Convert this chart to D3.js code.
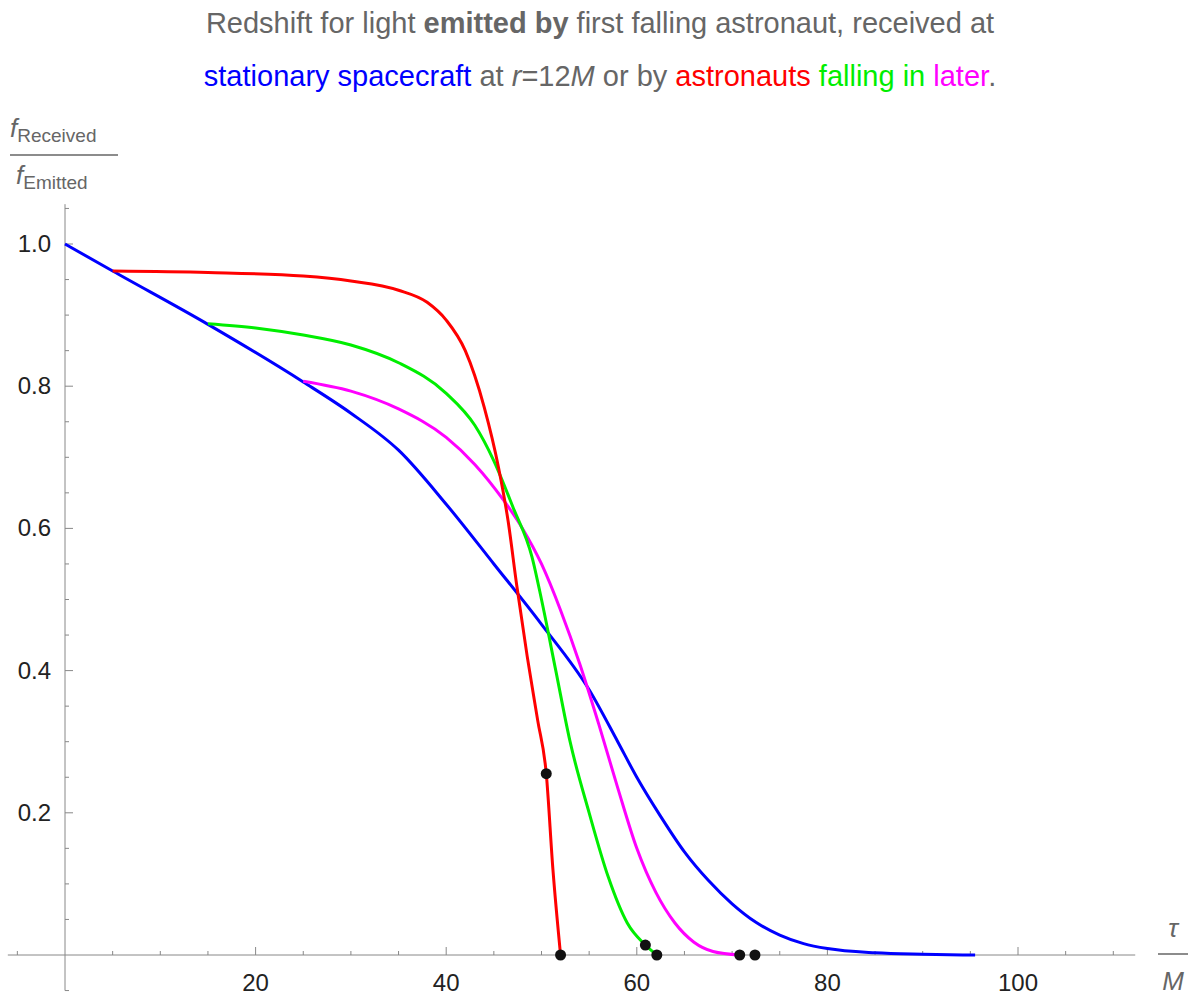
<!DOCTYPE html>
<html><head><meta charset="utf-8">
<script src="https://cdn.jsdelivr.net/npm/d3@7"></script>
<style>body{margin:0;background:#fff;font-family:"Liberation Sans",Arial,sans-serif}</style>
</head><body><svg id="c" width="1200" height="1000"></svg>
<script>
// curves: [tau/M, fReceived/fEmitted]
var blue = [[0,1.0],[5,0.962],[15,0.887],[25,0.806],[30,0.762],[35,0.71],[40,0.634],[45,0.55],[50,0.465],[55,0.373],[58,0.3],[60,0.25],[62.5,0.195],[65,0.145],[67.5,0.105],[70,0.072],[72.5,0.046],[75,0.028],[77.5,0.016],[80,0.009],[85,0.003],[90,0.001],[95.5,0]];
var red = [[5,0.962],[15,0.96],[25,0.955],[30,0.948],[35,0.935],[38,0.918],[40,0.893],[42,0.85],[44,0.77],[45.5,0.685],[46.5,0.61],[47.4,0.52],[48.5,0.42],[49.6,0.33],[50.5,0.255],[51.2,0.12],[52,0]];
var green = [[15,0.888],[20,0.882],[25,0.872],[30,0.858],[35,0.833],[40,0.79],[43,0.745],[45,0.695],[47,0.63],[49,0.56],[50,0.5],[51.5,0.4],[53,0.3],[55,0.2],[57,0.11],[59,0.045],[60.9,0.014],[62.1,0]];
var magenta = [[25,0.807],[30,0.793],[35,0.768],[40,0.728],[43,0.69],[46,0.64],[48,0.6],[50,0.55],[52,0.485],[54,0.41],[56,0.325],[58,0.235],[60,0.15],[62,0.088],[64,0.045],[66,0.018],[68,0.005],[70.8,0]];
var dots = [[50.5,0.255],[52,0],[60.9,0.014],[62.1,0],[70.8,0],[72.4,0]];
var xTicks = [20,40,60,80,100];
var yTicks = [0.2,0.4,0.6,0.8,1.0];

var svg = d3.select('#c');
var x = d3.scaleLinear().domain([0,100]).range([65,1018]);
var y = d3.scaleLinear().domain([0,1]).range([955,244]);

// axes
svg.append('line').attr('x1',x(-6)).attr('x2',x(112.3)).attr('y1',y(0)).attr('y2',y(0)).attr('stroke','#888');
svg.append('line').attr('x1',x(0)).attr('x2',x(0)).attr('y1',y(1.056)).attr('y2',y(-0.05)).attr('stroke','#888');
d3.range(-5,111,5).forEach(function(t){
    if (t===0) return;
    var major = t%20===0;
    svg.append('line').attr('x1',x(t)).attr('x2',x(t)).attr('y1',y(0)).attr('y2',y(0)-(major?8:4)).attr('stroke','#888');
});
d3.range(-0.05,1.051,0.05).forEach(function(t){
    if (Math.abs(t)<1e-6) return;
    var major = Math.abs(t*5-Math.round(t*5))<1e-6;
    svg.append('line').attr('x1',x(0)).attr('x2',x(0)+(major?8:4)).attr('y1',y(t)).attr('y2',y(t)).attr('stroke','#888');
});
xTicks.forEach(function(t){
    svg.append('text').attr('x',x(t)).attr('y',y(0)+36).attr('text-anchor','middle').attr('font-size',24).attr('fill','#222').text(t);
});
yTicks.forEach(function(t){
    svg.append('text').attr('x',x(0)-14).attr('y',y(t)+8).attr('text-anchor','end').attr('font-size',24).attr('fill','#222').text(t.toFixed(1));
});

var line = d3.line().x(function(d){return x(d[0]);}).y(function(d){return y(d[1]);}).curve(d3.curveMonotoneX);
[[blue,'#0000ff'],[magenta,'#ff00ff'],[green,'#00ee00'],[red,'#ff0000']].forEach(function(s){
    svg.append('path').datum(s[0]).attr('d',line).attr('fill','none').attr('stroke',s[1]).attr('stroke-width',3);
});
svg.selectAll('.dot').data(dots).enter().append('circle')
    .attr('cx',function(d){return x(d[0]);}).attr('cy',function(d){return y(d[1]);}).attr('r',5.5).attr('fill','#111');

// title
var g='#666';
var t1 = svg.append('text').attr('x',600).attr('y',33).attr('text-anchor','middle').attr('font-size',29).attr('fill',g);
t1.append('tspan').text('Redshift for light ');
t1.append('tspan').attr('font-weight','bold').text('emitted by');
t1.append('tspan').text(' first falling astronaut, received at');
var t2 = svg.append('text').attr('x',600).attr('y',86).attr('text-anchor','middle').attr('font-size',29).attr('fill',g);
t2.append('tspan').attr('fill','#0000ff').text('stationary spacecraft');
t2.append('tspan').text(' at ');
t2.append('tspan').attr('font-style','italic').text('r');
t2.append('tspan').text('=12');
t2.append('tspan').attr('font-style','italic').text('M');
t2.append('tspan').text(' or by ');
t2.append('tspan').attr('fill','#ff0000').text('astronauts');
t2.append('tspan').text(' ');
t2.append('tspan').attr('fill','#00ee00').text('falling in');
t2.append('tspan').text(' ');
t2.append('tspan').attr('fill','#ff00ff').text('later');
t2.append('tspan').text('.');

// y label fraction
var yl = svg.append('text').attr('x',10).attr('y',137).attr('font-size',26).attr('fill',g);
yl.append('tspan').attr('font-style','italic').text('f');
yl.append('tspan').attr('font-size',19).attr('dy',5).text('Received');
svg.append('line').attr('x1',10).attr('x2',118).attr('y1',155).attr('y2',155).attr('stroke',g).attr('stroke-width',1.5);
var yl2 = svg.append('text').attr('x',16).attr('y',184).attr('font-size',26).attr('fill',g);
yl2.append('tspan').attr('font-style','italic').text('f');
yl2.append('tspan').attr('font-size',19).attr('dy',5).text('Emitted');

// x label fraction
svg.append('text').attr('x',1173).attr('y',937).attr('text-anchor','middle').attr('font-size',26).attr('font-style','italic').attr('fill',g).text('τ');
svg.append('line').attr('x1',1158).attr('x2',1188).attr('y1',954).attr('y2',954).attr('stroke',g).attr('stroke-width',1.5);
svg.append('text').attr('x',1173).attr('y',990).attr('text-anchor','middle').attr('font-size',26).attr('font-style','italic').attr('fill',g).text('M');
</script></body></html>
